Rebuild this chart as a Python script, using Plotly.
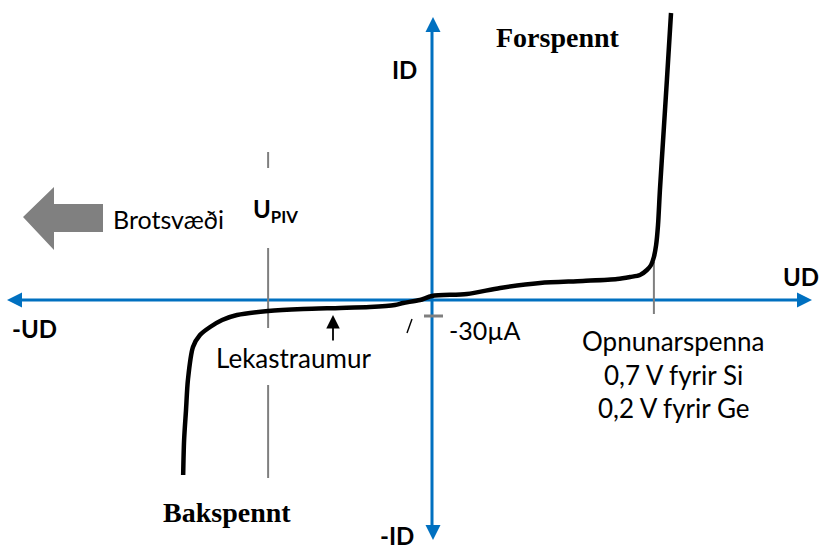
import plotly.graph_objects as go

# Diode I-V characteristic (schematic). Voltage in V, current in arbitrary units.
ud_reverse = [-0.785, -0.782, -0.776, -0.770, -0.754, -0.732, -0.700, -0.662,
              -0.615, -0.517, -0.407, -0.290, -0.196, -0.117, -0.091, -0.038, 0.0]
id_reverse = [-17.5, -14.0, -11.0, -8.0, -4.7, -3.5, -2.7, -2.0,
              -1.5, -1.1, -0.9, -0.8, -0.7, -0.5, -0.3, 0.0, 0.4]
ud_forward = [0.110, 0.215, 0.341, 0.476, 0.584, 0.625, 0.656, 0.678,
              0.691, 0.700, 0.707, 0.713, 0.719, 0.729, 0.741, 0.754]
id_forward = [0.6, 1.2, 1.7, 1.9, 2.1, 2.3, 2.5, 3.0,
              3.5, 4.3, 5.5, 7.5, 11.0, 16.0, 22.0, 28.7]

u_piv = -0.517          # peak inverse voltage marker
u_open = 0.700          # opening voltage (Si)
i_leak = -1.6           # -30 uA leak current tick

BLUE = "#0070C0"
GRAY = "#7F7F7F"
SANS = "Lato"
SERIF = "Liberation Serif"

W, H = 821, 546
X0, Y0 = 432, 300          # pixel position of the origin
PX_V, PX_I = 317.0, 10.0   # pixels per unit


def d(px, py):
    """pixel -> data coordinates"""
    return (px - X0) / PX_V, (Y0 - py) / PX_I


def path(points):
    pts = [d(*p) for p in points]
    return "M " + " L ".join(f"{x:.5f},{y:.5f}" for x, y in pts) + " Z"


def seg(p1, p2, color, width):
    x1, y1 = d(*p1)
    x2, y2 = d(*p2)
    return dict(type="line", x0=x1, y0=y1, x1=x2, y1=y2,
                line=dict(color=color, width=width), layer="below")


fig = go.Figure()
fig.add_trace(go.Scatter(
    x=ud_reverse + ud_forward, y=id_reverse + id_forward,
    mode="lines", line=dict(color="black", width=4.5, shape="spline", smoothing=0.8),
    hoverinfo="skip", showlegend=False,
))

shapes = [
    # axes
    seg((22, Y0), (798, Y0), BLUE, 3),
    seg((X0, 31), (X0, 526), BLUE, 3),
    dict(type="path", path=path([(812, 300), (797, 292.5), (797, 307.5)]),
         fillcolor=BLUE, line=dict(width=0)),
    dict(type="path", path=path([(7, 300), (22, 292.5), (22, 307.5)]),
         fillcolor=BLUE, line=dict(width=0)),
    dict(type="path", path=path([(433, 17), (425.5, 32), (440.5, 32)]),
         fillcolor=BLUE, line=dict(width=0)),
    dict(type="path", path=path([(433, 540), (425.5, 525), (440.5, 525)]),
         fillcolor=BLUE, line=dict(width=0)),
    # breakdown arrow
    dict(type="path",
         path=path([(23, 217), (54, 187), (54, 204), (103, 204),
                    (103, 232), (54, 232), (54, 250)]),
         fillcolor="#808080", line=dict(width=0)),
    # -30uA tick and slash
    seg((424, Y0 - i_leak * PX_I), (443, Y0 - i_leak * PX_I), GRAY, 3),
    seg((407, 333), (412, 319), "black", 1.4),
]

x_piv = X0 + u_piv * PX_V
for a, b in [(152, 168), (248, 328), (385, 478)]:
    shapes.append(seg((x_piv, a), (x_piv, b), GRAY, 2))
x_open = X0 + u_open * PX_V
shapes.append(seg((x_open, 262), (x_open, 314), GRAY, 2))


def label(text, px, py, size=26, bold=False, family=SANS):
    fig.add_annotation(
        x=px / W, y=1 - py / H, xref="paper", yref="paper",
        text=f"<b>{text}</b>" if bold else text, showarrow=False,
        xanchor="center", yanchor="middle",
        font=dict(family=family, size=size, color="black"),
    )


label("ID", 404, 69, size=24, bold=True)
label("-ID", 397, 535, size=24, bold=True)
label("UD", 801, 276, size=24, bold=True)
label("-UD", 34, 328, size=24, bold=True)
label("Forspennt", 558, 38, size=28, bold=True, family=SERIF)
label("Bakspennt", 227, 512, size=28, bold=True, family=SERIF)
label("U<sub>PIV</sub>", 275, 211, size=24, bold=True)
label("Brotsvæði", 168, 219, size=25)
label("Lekastraumur", 293, 358)
label("-30µA", 485, 330, size=25)
label("Opnunarspenna", 673, 341)
label("0,7 V fyrir Si", 673, 375)
label("0,2 V fyrir Ge", 673, 408)

# leak current pointer
tx, ty = d(333, 315)
bx, by = d(333, 342)
fig.add_annotation(x=tx, y=ty, ax=bx, ay=by, xref="x", yref="y", axref="x", ayref="y",
                   text="", showarrow=True, arrowhead=2, arrowsize=1.5, arrowwidth=1.8,
                   arrowcolor="black")

xr = [d(0, 0)[0], d(W, 0)[0]]
yr = [d(0, H)[1], d(0, 0)[1]]
fig.update_layout(
    width=W, height=H, margin=dict(l=0, r=0, t=0, b=0),
    paper_bgcolor="white", plot_bgcolor="white",
    shapes=shapes,
    xaxis=dict(range=xr, visible=False, fixedrange=True),
    yaxis=dict(range=yr, visible=False, fixedrange=True),
)

fig.write_html("out.html", config={"displayModeBar": False},
               post_script="document.body.style.margin='0';")
